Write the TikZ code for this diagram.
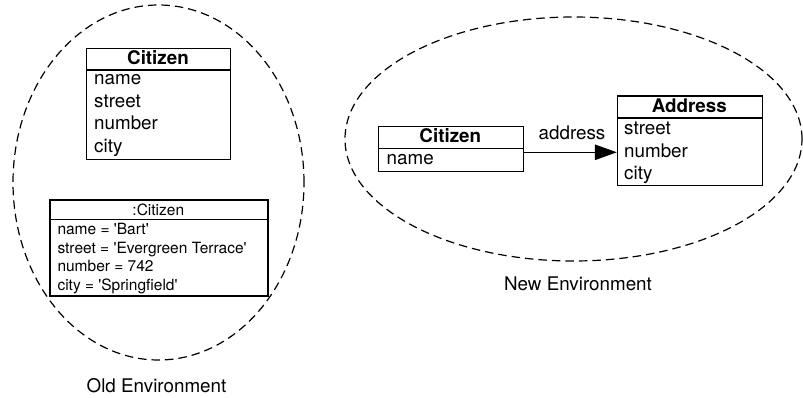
\documentclass[tikz,border=0pt]{standalone}
\usepackage{fontspec}
\setmainfont{TeX Gyre Heros}
\usetikzlibrary{arrows.meta,calc}
\newcommand{\qmk}{\textquotesingle}
\begin{document}
\begin{tikzpicture}[x=1pt,y=-1pt,
  env/.style={draw=black, line width=1.2pt, dash pattern=on 8.5pt off 5pt},
  umlbox/.style={draw=black, line width=1.3pt, inner sep=0pt, anchor=north west},
  sep/.style={draw=black, line width=1.3pt},
  big/.style={inner sep=0pt, font=\fontsize{18.8}{22}\selectfont},
  bigb/.style={inner sep=0pt, font=\fontsize{18.8}{22}\selectfont\bfseries},
  small/.style={inner sep=0pt, font=\fontsize{15.5}{18}\selectfont},
  attr/.style={anchor=base west},
  assoc/.style={draw=black, line width=1.3pt, -{Triangle[length=22pt,width=15.5pt]}}
]
\useasboundingbox (0,0) rectangle (803,398);

% environments
\draw[env] (158.5,182.5) ellipse [x radius=145.5pt, y radius=177.5pt];
\draw[env] (573.5,139) ellipse [x radius=228.5pt, y radius=122pt];
\node[big, anchor=base] (oldenv) at (156.5,392.7) {Old Environment};
\node[big, anchor=base] (newenv) at (578,290) {New Environment};

% old class Citizen
\node[umlbox, minimum width=144pt, minimum height=111pt] (oldcls) at (86,48) {};
\draw[sep] ($(oldcls.north west)+(0,22)$) -- ($(oldcls.north east)+(0,22)$);
\node[bigb, anchor=base] (oldclsname) at (158,65) {Citizen};
\node[big, attr] (oa1) at (94,85) {name};
\node[big, attr] (oa2) at (94,107.4) {street};
\node[big, attr] (oa3) at (94,129.8) {number};
\node[big, attr] (oa4) at (94,152.2) {city};

% object :Citizen
\node[umlbox, minimum width=218pt, minimum height=96pt] (obj) at (49.3,199.3) {};
\draw[sep] ($(obj.north west)+(0,20)$) -- ($(obj.north east)+(0,20)$);
\node[small, anchor=base] (objname) at (158.3,215) {:Citizen};
\node[small, attr] (ob1) at (57.3,235) {name = \qmk Bart\qmk};
\node[small, attr] (ob2) at (57.3,253.4) {street = \qmk Evergreen Terrace\qmk};
\node[small, attr] (ob3) at (57.3,271.8) {number = 742};
\node[small, attr] (ob4) at (57.3,290.2) {city = \qmk Springfield\qmk};

% new class Citizen
\node[umlbox, minimum width=145.5pt, minimum height=45pt] (newcit) at (377.5,126) {};
\draw[sep] ($(newcit.north west)+(0,22.3)$) -- ($(newcit.north east)+(0,22.3)$);
\node[bigb, anchor=base] (newcitname) at (450.3,142.3) {Citizen};
\node[big, attr] (nc1) at (386.5,164.3) {name};

% class Address
\node[umlbox, minimum width=145pt, minimum height=89.5pt] (addr) at (616.8,95.5) {};
\draw[sep] ($(addr.north west)+(0,22.5)$) -- ($(addr.north east)+(0,22.5)$);
\node[bigb, anchor=base] (addrname) at (689.3,112.3) {Address};
\node[big, attr] (ad1) at (624,135) {street};
\node[big, attr] (ad2) at (624,157.4) {number};
\node[big, attr] (ad3) at (624,179.8) {city};

% association
\coordinate (arrowy) at (0,152.3);
\draw[assoc] (newcit.east |- arrowy) -- (addr.west |- arrowy);
\node[big, anchor=base] (assocname) at (572,140) {address};
\end{tikzpicture}
\end{document}
